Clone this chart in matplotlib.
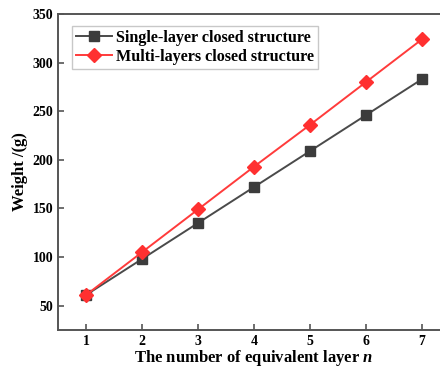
import matplotlib
matplotlib.use("Agg")
import matplotlib.pyplot as plt

plt.rcParams['font.family'] = ['Liberation Serif', 'DejaVu Serif']
plt.rcParams['mathtext.fontset'] = 'custom'
plt.rcParams['mathtext.it'] = 'Liberation Serif:italic:bold'

layers = [1, 2, 3, 4, 5, 6, 7]
single_layer = [61, 98, 135, 172, 209, 246, 283]
multi_layers = [61, 105, 149, 193, 236, 280, 324]

fig = plt.figure(figsize=(4.4, 3.67), dpi=100)
ax = fig.add_axes([58 / 440, 37 / 367, 392 / 440, 316 / 367])

ax.plot(layers, single_layer, color='#4a4a4a', lw=1.4, marker='s', ms=7.5,
        mfc='#3c3c3c', mec='#3c3c3c', label='Single-layer closed structure')
ax.plot(layers, multi_layers, color='#ff3b3b', lw=1.4, marker='D', ms=7.5,
        mfc='#ff3030', mec='#ff3030', label='Multi-layers closed structure')

ax.set_xlim(0.5, 7.5)
ax.set_ylim(25, 350)
ax.set_xticks(layers)
ax.set_yticks([50, 100, 150, 200, 250, 300, 350])

for s in ax.spines.values():
    s.set_linewidth(1.4)
    s.set_color('#555555')
ax.tick_params(direction='in', length=4, width=1.2, color='#555555',
               labelsize=10)
for lab in ax.get_xticklabels() + ax.get_yticklabels():
    lab.set_fontweight('bold')

ax.set_xlabel('The number of equivalent layer $n$', fontsize=12,
              fontweight='bold', labelpad=0)
ax.set_ylabel('Weight /(g)', fontsize=12, fontweight='bold', labelpad=3)

leg = ax.legend(loc='upper left', bbox_to_anchor=(0.036, 0.963),
                prop={'weight': 'bold', 'size': 11.6}, fancybox=False,
                handlelength=2.2, handletextpad=0.3, borderpad=0.25,
                labelspacing=0.2, borderaxespad=0)
leg.get_frame().set_edgecolor('#bbbbbb')
leg.get_frame().set_linewidth(1.0)

fig.savefig('out.png', dpi=100)
